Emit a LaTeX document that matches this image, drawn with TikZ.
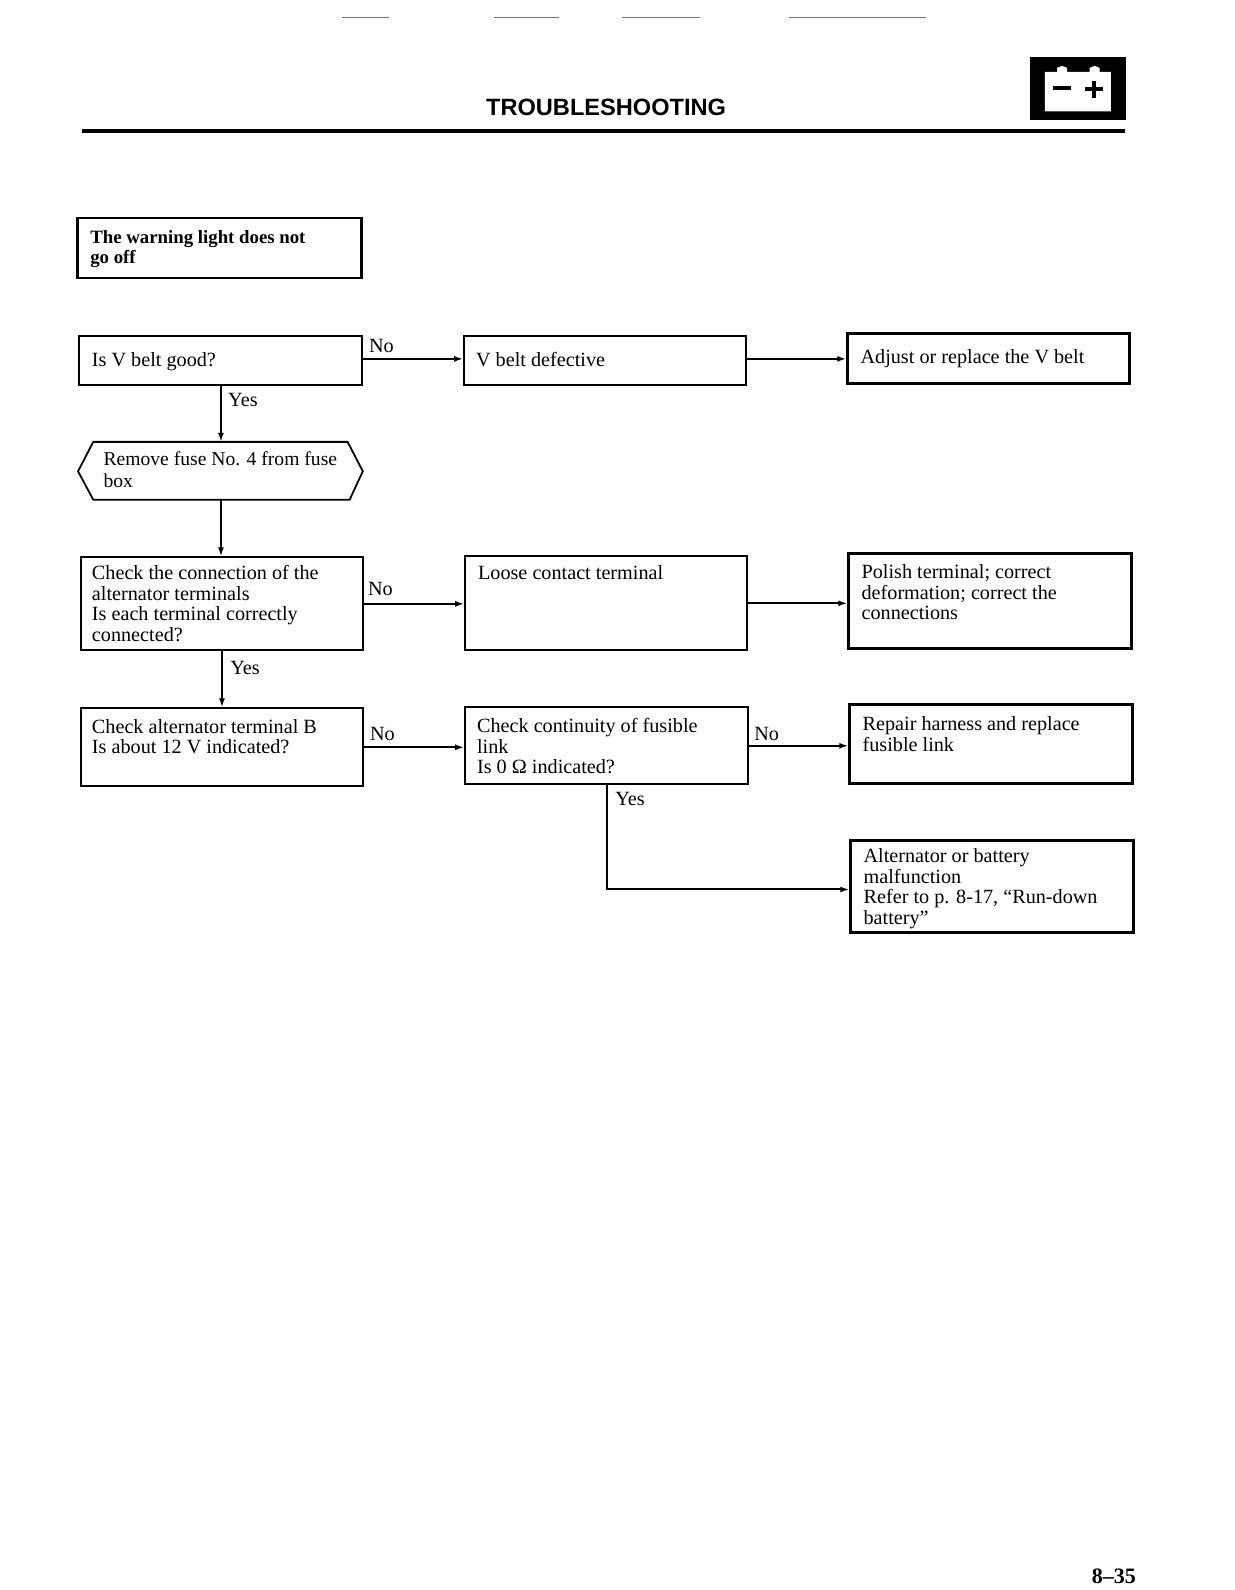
\documentclass[tikz,border=0pt]{standalone}
\usepackage{fontspec}
\setmainfont{Liberation Serif}
\newfontfamily\headfont{Liberation Sans}
\usetikzlibrary{arrows.meta}
\newcommand{\bxtext}[5][13]{\parbox[c][#3pt][t]{#2pt}{\vspace*{#4pt}\leftskip=#1pt\rightskip=0pt plus 1fil\parindent=0pt\fontsize{20.2}{20.6}\selectfont #5}}
\tikzset{
  x=1.0135pt,y=-1.0135pt,
  boxa/.style={draw=black,line width=1.8pt,inner sep=0pt,anchor=north west,fill=white},
  boxb/.style={boxa,line width=2.6pt},
  flow/.style={draw=black,line width=2pt,-{Latex[length=9pt,width=6pt]}},
  lab/.style={font=\fontsize{20.2}{21}\selectfont,inner sep=0pt,anchor=west},
  scanline/.style={draw=black!55,line width=0.9pt},
}
\begin{document}
\begin{tikzpicture}
\useasboundingbox (0,0) rectangle (1217.6,1568.8);
% scan marks along the top edge
\draw[scanline] (337,17) -- (384,17);
\draw[scanline] (487,17) -- (552,17);
\draw[scanline] (614,17) -- (691,17);
\draw[scanline] (778,17) -- (914,17);
% header
\node[inner sep=0pt,font=\headfont\bfseries\fontsize{23.6}{26}\selectfont] (title) at (598,106) {TROUBLESHOOTING};
\draw[line width=4.2pt] (81,129) -- (1110,129);
\fill (1016,56) rectangle (1111,118);
\fill[white] (1031,71) -- (1043,71) -- (1043,67) -- (1048,65) -- (1053,67) -- (1053,71) -- (1075,71) -- (1075,67) -- (1080,65) -- (1085,67) -- (1085,71) -- (1096,71) -- (1096,110) -- (1031,110) -- cycle;
\draw[line width=4pt] (1039,87) -- (1057,87);
\draw[line width=4pt] (1071,88) -- (1088,88) (1079,80) -- (1079,97);
% boxes
\node[boxb] (start) at (75,214) {\bxtext[13]{284}{60}{12}{\fontsize{18.8}{20.6}\selectfont\bfseries The warning light does not\\go off}};
\node[boxa] (vgood) at (77,331) {\bxtext{283}{49}{16}{Is V belt good?}};
\node[boxa] (vdef) at (457,331) {\bxtext[12]{282}{49}{16}{V belt defective}};
\node[boxb] (vadj) at (835,328) {\bxtext{282}{50}{16}{Adjust or replace the V belt}};
\draw[line width=1.8pt] (92,436) -- (343,436) -- (358,465) -- (345,493) -- (92,493) -- (77,465) -- cycle;
\node[inner sep=0pt,anchor=north west,align=left,font=\fontsize{19.6}{22}\selectfont] (fuse) at (102,445) {Remove fuse No. 4 from fuse\\box};
\coordinate (fusetop) at (218,436);
\coordinate (fusebot) at (218,493);
\node[boxa] (conn) at (79,549) {\bxtext[11]{282}{93}{8}{Check the connection of the\\alternator terminals\\Is each terminal correctly\\connected?}};
\node[boxa] (loose) at (458,548) {\bxtext{282}{94}{9}{Loose contact terminal}};
\node[boxb] (polish) at (836,545) {\bxtext{283}{95}{11}{Polish terminal; correct\\deformation; correct the\\connections}};
\node[boxa] (term) at (79,698) {\bxtext[11]{282}{78}{11}{Check alternator terminal B\\Is about 12 V indicated?}};
\node[boxa] (cont) at (458,697) {\bxtext[12]{283}{77}{11}{Check continuity of fusible\\link\\Is 0 Ω indicated?}};
\node[boxb] (repair) at (837,694) {\bxtext{283}{79}{12}{Repair harness and replace\\fusible link}};
\node[boxb] (alt) at (838,828) {\bxtext{283}{92}{8}{Alternator or battery\\malfunction\\Refer to p. 8-17, “Run-down\\battery”}};
% connectors
\draw[flow] ([yshift=2pt]vgood.east) -- ([yshift=2pt]vgood.east -| vdef.west);
\draw[flow] ([yshift=2pt]vdef.east) -- ([yshift=2pt]vdef.east -| vadj.west);
\draw[flow] (vgood.south -| fusetop) -- (fusetop);
\draw[flow] (fusebot) -- (fusebot |- conn.north);
\draw[flow] (conn.east) -- (conn.east -| loose.west);
\draw[flow] (loose.east) -- (loose.east -| polish.west);
\draw[flow] (conn.south) -- (term.north);
\draw[flow] (term.east) -- (term.east -| cont.west);
\draw[flow] (cont.east) -- (cont.east -| repair.west);
\draw[flow] (cont.south) |- ([yshift=-3pt]alt.west);
% labels
\node[lab] (n1) at (364,341) {No};
\node[lab] (y1) at (225,395) {Yes};
\node[lab] (n2) at (363,581) {No};
\node[lab] (y2) at (227,659) {Yes};
\node[lab] (n3) at (365,724) {No};
\node[lab] (n4) at (744,724) {No};
\node[lab] (y3) at (607,788) {Yes};
\node[inner sep=0pt,font=\bfseries\fontsize{22}{24}\selectfont] (page) at (1099,1555) {8–35};
\end{tikzpicture}
\end{document}
